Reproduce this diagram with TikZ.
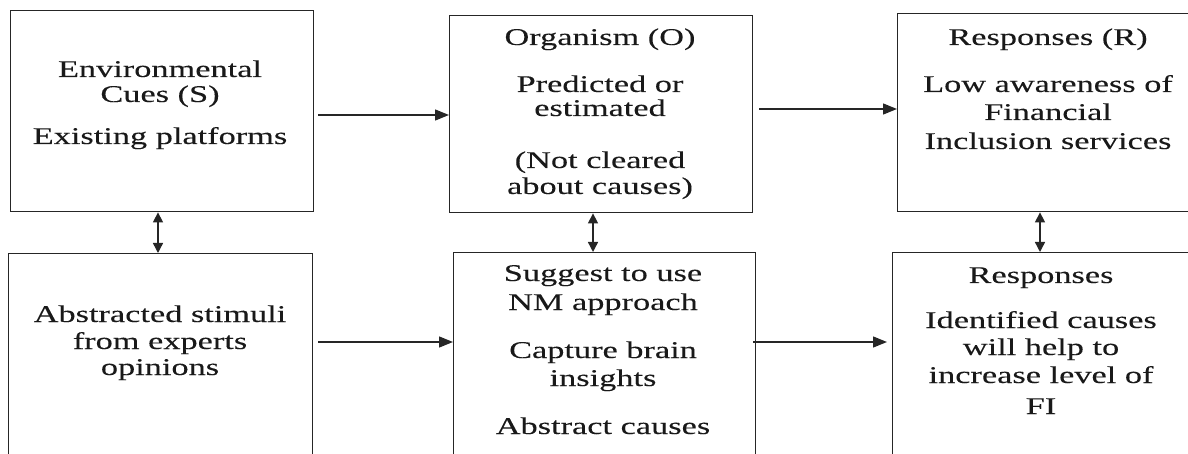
\documentclass[tikz,border=0pt]{standalone}
\usepackage{fontspec}
\setmainfont{Liberation Serif}[FakeStretch=1.43,FakeBold=0.12]
\usetikzlibrary{arrows.meta}
\begin{document}
\begin{tikzpicture}[x=1pt,y=-1pt,
  box/.style={draw=black!85, line width=1.4pt, anchor=north west, inner sep=0pt},
  txt/.style={anchor=base, inner sep=0pt, font=\fontsize{24}{28}\selectfont, text=black!90},
  arr/.style={draw=black!85, line width=1.4pt, -{Triangle[length=14pt,width=11pt]}},
  dbl/.style={draw=black!85, line width=1.4pt, {Triangle[length=10pt,width=10pt]}-{Triangle[length=10pt,width=10pt]}}]
\useasboundingbox (0,0) rectangle (1188,454);
\clip (0,0) rectangle (1188,454);

% boxes
\node[box, minimum width=303pt, minimum height=201pt] (B1) at (10,10) {};
\node[box, minimum width=303pt, minimum height=197pt] (B2) at (449,15) {};
\node[box, minimum width=300pt, minimum height=198pt] (B3) at (897,13) {};
\node[box, minimum width=304pt, minimum height=215pt] (B4) at (8,253) {};
\node[box, minimum width=302pt, minimum height=215pt] (B5) at (453,252) {};
\node[box, minimum width=298pt, minimum height=215pt] (B6) at (892,252) {};

% stimulus
\node[txt] (s1) at (160,77) {Environmental};
\node[txt] (s2) at (160,102) {Cues (S)};
\node[txt] (s3) at (160,144) {Existing platforms};

% organism
\node[txt] (o1) at (600,45) {Organism (O)};
\node[txt] (o2) at (600,92) {Predicted or};
\node[txt] (o3) at (600,116) {estimated};
\node[txt] (o4) at (600,168) {(Not cleared};
\node[txt] (o5) at (600,194) {about causes)};

% response
\node[txt] (r1) at (1048,45) {Responses (R)};
\node[txt] (r2) at (1048,92) {Low awareness of};
\node[txt] (r3) at (1048,120) {Financial};
\node[txt] (r4) at (1048,149) {Inclusion services};

% abstracted stimuli
\node[txt] (a1) at (160,322) {Abstracted stimuli};
\node[txt] (a2) at (160,349) {from experts};
\node[txt] (a3) at (160,375) {opinions};

% suggested approach
\node[txt] (n1) at (603,281) {Suggest to use};
\node[txt] (n2) at (603,310) {NM approach};
\node[txt] (n3) at (603,358) {Capture brain};
\node[txt] (n4) at (603,386) {insights};
\node[txt] (n5) at (603,434) {Abstract causes};

% expected responses
\node[txt] (e1) at (1041,283) {Responses};
\node[txt] (e2) at (1041,328) {Identified causes};
\node[txt] (e3) at (1041,355) {will help to};
\node[txt] (e4) at (1041,383) {increase level of};
\node[txt] (e5) at (1041,414) {FI};

% horizontal links
\coordinate (h1) at (0,115);
\coordinate (h2) at (0,109);
\coordinate (h3) at (0,342);
\draw[arr] ([xshift=4pt]B1.east |- h1) -- (B2.west |- h1);
\draw[arr] ([xshift=6pt]B2.east |- h2) -- (B3.west |- h2);
\draw[arr] ([xshift=5pt]B4.east |- h3) -- (B5.west |- h3);
\draw[arr] ([xshift=-3pt]B5.east |- h3) -- ([xshift=-5pt]B6.west |- h3);

% vertical two-way links
\coordinate (v1) at (158,0);
\coordinate (v2) at (593,0);
\coordinate (v3) at (1040,0);
\draw[dbl] (B1.south -| v1) -- (B4.north -| v1);
\draw[dbl] (B2.south -| v2) -- (B5.north -| v2);
\draw[dbl] (B3.south -| v3) -- (B6.north -| v3);
\end{tikzpicture}
\end{document}
